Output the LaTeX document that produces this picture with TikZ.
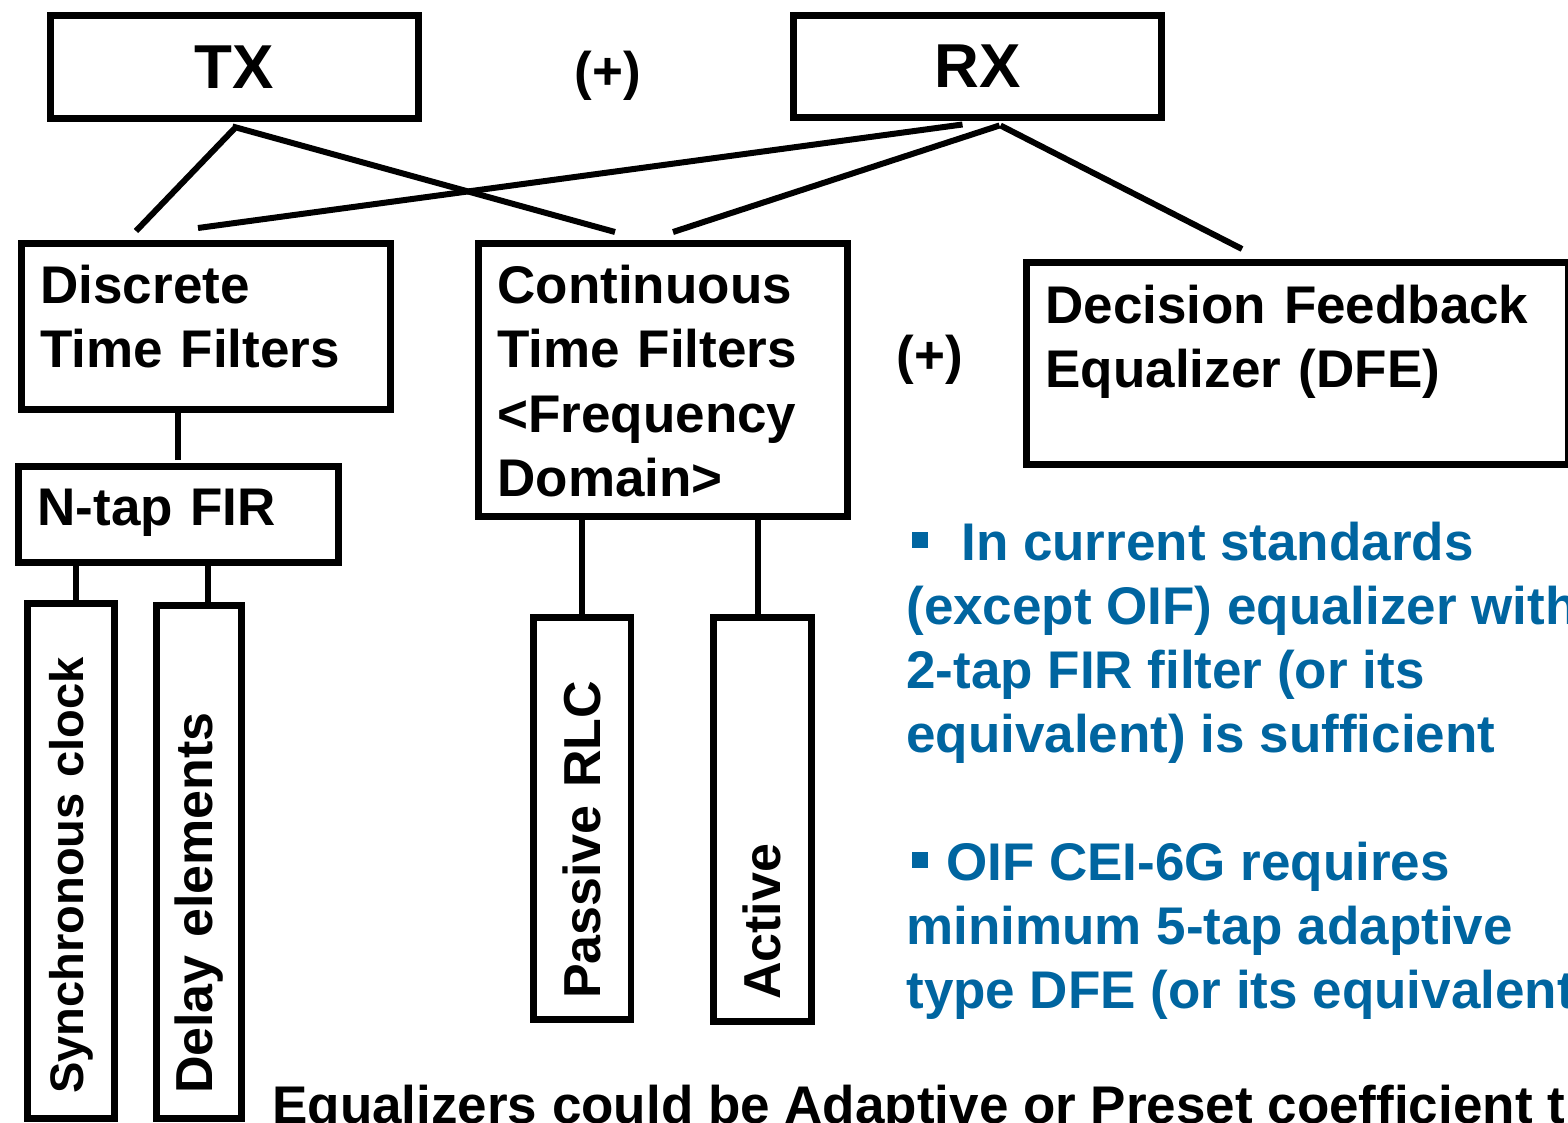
\documentclass[tikz,border=0pt]{standalone}
\usepackage{fontspec}
\setmainfont{Liberation Sans}
\usetikzlibrary{calc}
\definecolor{eqblue}{RGB}{0,101,160}
\newcommand\lblfont{\fontsize{30.16pt}{36.7pt}\selectfont\bfseries}
\newcommand\hdfont{\fontsize{35.3pt}{40pt}\selectfont\bfseries}
\newcommand\rotfont{\fontsize{29.6pt}{34pt}\selectfont\bfseries}
\newcommand\bluefont{\fontsize{30.16pt}{36.42pt}\selectfont\bfseries}
\newcommand\bsq{\rule[0.24cm]{0.32cm}{0.32cm}}
\begin{document}
\begin{tikzpicture}[x=0.02cm,y=-0.02cm,
  box/.style={draw=black, line width=0.14cm, inner sep=0pt},
  headbox/.style={box, font=\hdfont, minimum width=7.38cm},
  textbox/.style={box, font=\lblfont, align=left, anchor=north west,
    inner xsep=0.38cm, inner ysep=0.44cm, text height=0.76cm},
  rotbox/.style={box, font=\rotfont, rotate=90, align=left},
  conn/.style={draw=black, line width=0.12cm},
  plain/.style={font=\lblfont, inner sep=0pt},
  bluetxt/.style={font=\bluefont, text=eqblue, align=left, anchor=base west, inner sep=0pt}]
\useasboundingbox (0,0) rectangle (1568,1122);

% top level
\node[headbox, minimum height=2.08cm] (tx) at (234.5,67) {TX};
\node[headbox, minimum height=2.06cm] (rx) at (977.5,66.5) {RX};
\node[plain] (plus1) at (608,76) {(+)};

% second level
\node[textbox, text width=6.62cm, text depth=1.68cm] (disc) at (18,240) {Discrete\\Time Filters};
\node[textbox, text width=6.62cm, text depth=3.82cm] (cont) at (475,240) {Continuous\\Time Filters\\<Frequency\\Domain>};
\node[textbox, text width=10.08cm, inner ysep=0.46cm, text depth=2.36cm] (dfe) at (1023,259) {Decision Feedback\\Equalizer (DFE)};
\node[plain] (plus2) at (930,360) {(+)};

% third level
\node[textbox, text width=5.64cm, inner ysep=0.42cm, text depth=0.32cm] (ntap) at (15,463) {N-tap FIR};

% leaves
\node[rotbox, font=\fontsize{26.8pt}{30pt}\selectfont\bfseries, text width=9.32cm, inner xsep=0.5cm, minimum height=1.76cm] (sync) at (71,861) {Synchronous clock};
\node[rotbox, text width=9.28cm, inner xsep=0.5cm, minimum height=1.72cm] (delay) at (199,862) {Delay elements};
\node[rotbox, text width=7.22cm, inner xsep=0.42cm, minimum height=1.96cm] (passive) at (582,818.5) {Passive RLC};
\node[rotbox, text width=7.22cm, inner xsep=0.44cm, minimum height=1.96cm] (active) at (762,819.5) {Active};

% connectors
\draw[conn] ($(tx.south)+(0,6)$) -- ($(disc.north west)+(118,-9)$);
\draw[conn] ($(tx.south)+(-2,4)$) -- ($(cont.north west)+(140,-8)$);
\draw[conn] ($(rx.south)+(-15,3)$) -- ($(disc.north west)+(180,-12)$);
\draw[conn] ($(rx.south)+(22,4)$) -- ($(cont.north west)+(198,-8)$);
\draw[conn] ($(rx.south)+(23,4)$) -- ($(dfe.north west)+(219,-10)$);
\draw[conn] ($(ntap.north west)+(163,-3)$) coordinate (d1) -- ($(d1 |- disc.south)+(0,-4)$);
\draw[conn] ($(sync.east)+(5,0)$) -- ($(ntap.south west)+(61,0)$);
\draw[conn] ($(delay.east)+(9,0)$) -- ($(ntap.south west)+(193,0)$);
\draw[conn] (passive.east) -- (passive.east |- cont.south);
\draw[conn] ($(active.east)+(-4,0)$) coordinate (a1) -- (a1 |- cont.south);

% notes
\node[bluetxt] (note1) at (906,752) {\hspace*{0.12cm}\bsq\hspace{0.66cm}In current standards\\(except OIF) equalizer with\\2-tap FIR filter (or its\\equivalent) is sufficient};
\node[bluetxt] (note2) at (906,1008) {\hspace*{0.12cm}\bsq\hspace{0.36cm}OIF CEI-6G requires\\minimum 5-tap adaptive\\type DFE (or its equivalent};
\node[plain, anchor=base west] (note3) at (272,1123) {Equalizers could be Adaptive or Preset coefficient t};
\end{tikzpicture}
\end{document}
